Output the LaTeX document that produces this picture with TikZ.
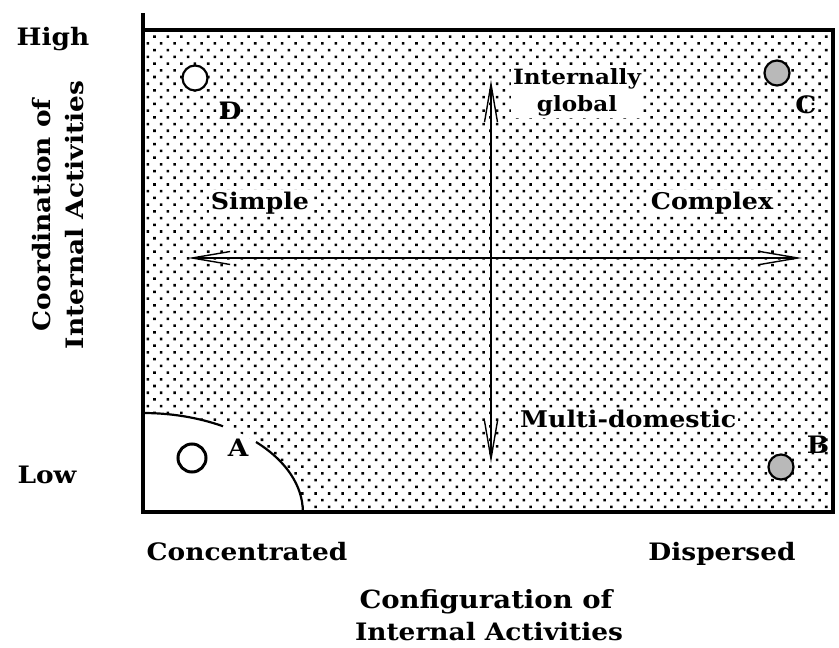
\documentclass[tikz,border=0pt]{standalone}
\usepackage{fontspec}
\setmainfont[FakeStretch=1.1]{DejaVu Serif}
\usetikzlibrary{patterns.meta,arrows.meta}
\tikzset{
  lbl/.style={font=\bfseries\fontsize{24}{32}\selectfont, inner sep=0pt, anchor=base},
  inlbl/.style={font=\bfseries\fontsize{23}{28}\selectfont, fill=white, inner sep=2pt, align=center},
  letter/.style={font=\bfseries\fontsize{24}{26}\selectfont, inner sep=1pt},
  frame/.style={line width=3.5pt},
  axistip/.tip={Straight Barb[length=38pt,width=13pt,line width=1.4pt]},
  axis/.style={line width=1.8pt, {axistip}-{axistip}},
  firm/.style={circle, minimum size=25pt, inner sep=0pt, line width=2.2pt, draw=black}
}
\begin{document}
\begin{tikzpicture}[x=1pt,y=-1pt]
\useasboundingbox (0,0) rectangle (839,648);
% dotted field
\fill[pattern={Dots[radius=1.8pt,distance=9.5pt,angle=45]}] (143,30) rectangle (833,512);
% white region around A
\fill[white] (143,512) -- (143,413) arc[start angle=90,end angle=0,x radius=160,y radius=-99] -- cycle;
\draw[line width=2.2pt] (143,413) arc[start angle=90,end angle=60,x radius=160,y radius=-99];
\draw[line width=2.2pt] (256,442) arc[start angle=45,end angle=0,x radius=160,y radius=-99];
% frame
\coordinate (tl) at (143,13);
\coordinate (tl2) at (143,30);
\coordinate (tr) at (833,30);
\coordinate (br) at (833,512);
\coordinate (bl) at (143,512);
\draw[frame] (tl) -- (bl) -- (br) -- (tr) -- (tl2);
% axes
\coordinate (vtop) at (491,80);
\coordinate (vbot) at (491,463);
\coordinate (hl) at (188,258);
\coordinate (hr) at (802,258);
\draw[axis] (vtop) -- (vbot);
\draw[axis] (hl) -- (hr);
% inner labels
\node[inlbl, font=\bfseries\fontsize{21}{27}\selectfont] (ig) at (577,92) {Internally\\global};
\node[inlbl] (simple) at (260,203) {Simple};
\node[inlbl] (complex) at (712,203) {Complex};
\node[inlbl, anchor=base west] (md) at (518,427) {Multi-domestic};
% firms
\node[firm, fill=white] (cD) at (195,78) {};
\node[firm, fill=gray!55] (cC) at (777,73) {};
\node[firm, fill=gray!55] (cB) at (781,467) {};
\node[firm, fill=white, minimum size=28pt, line width=3pt] (cA) at (192,458) {};
\node[letter] (lD) at (230,111) {D};
\node[letter] (lC) at (806,105) {C};
\node[letter] (lB) at (818,445) {B};
\node[letter] (lA) at (238,448) {A};
% outer labels
\node[lbl] (high) at (53,45) {High};
\node[lbl] (low) at (47,483) {Low};
\node[lbl, rotate=90, anchor=base] (coord1) at (50,215) {Coordination of};
\node[lbl, rotate=90, anchor=base] (coord2) at (83,215) {Internal Activities};
\node[lbl] (conc) at (247,560) {Concentrated};
\node[lbl] (disp) at (722,560) {Dispersed};
\node[lbl, font=\bfseries\fontsize{25}{32}\selectfont] (config1) at (486,608) {Configuration of};
\node[lbl] (config2) at (489,640) {Internal Activities};
\end{tikzpicture}
\end{document}
